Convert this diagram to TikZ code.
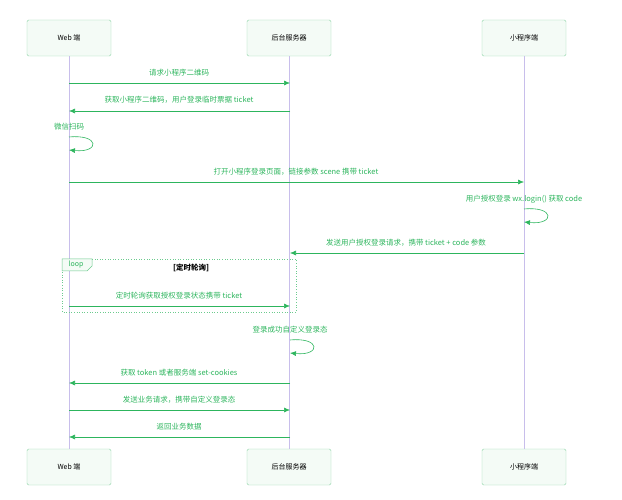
\documentclass[tikz,border=0pt]{standalone}
\usepackage{fontspec}
\setmainfont{Noto Sans CJK SC}
\usetikzlibrary{arrows.meta}
\definecolor{tg}{HTML}{2DB55D}
\definecolor{bx}{HTML}{8FD4A8}
\definecolor{bf}{HTML}{F4FBF6}
\definecolor{ll}{HTML}{C8BEEB}
\begin{document}
\begin{tikzpicture}[x=1pt,y=-1pt,
  actor/.style={draw=bx,fill=bf,minimum width=84pt,minimum height=36pt,rounded corners=1.5pt,font=\fontsize{7}{8}\selectfont,text=black},
  msg/.style={draw=tg,line width=0.6pt,-{Latex[length=6pt,width=5pt]},shorten >=0pt},
  lab/.style={text=tg,font=\fontsize{7.5}{9}\selectfont,inner sep=1pt},
  life/.style={draw=ll,line width=0.6pt}]
\useasboundingbox (0,0) rectangle (622,500);
\node[actor] (wt) at (69,38) {Web 端};
\node[actor] (st) at (289,38) {后台服务器};
\node[actor] (mt) at (524,38) {小程序端};
\node[actor] (wb) at (69,467) {Web 端};
\node[actor] (sb) at (289,467) {后台服务器};
\node[actor] (mb) at (524,467) {小程序端};
\draw[life] (wt.south) -- (wb.north);
\draw[life] (st.south) -- (sb.north);
\draw[life] (mt.south) -- (mb.north);
% loop box
\draw[draw=tg!70,dotted,line width=0.6pt] (62,259) rectangle (296,312);
\draw[draw=tg!70,fill=bf,line width=0.5pt] (62,259) -- (92,259) -- (92,266) -- (87,271) -- (62,271) -- cycle;
\node[text=tg,font=\fontsize{7}{8}\selectfont,inner sep=0pt] (lp) at (76,265) {loop};
\node[font=\fontsize{7.5}{9}\selectfont\bfseries,inner sep=1pt] (lc) at (191,268) {[定时轮询]};
% coordinates
\foreach \n/\x in {w/69,s/290,m/524}{
  \foreach \y in {83,111,182,253,306,383,410,437}{\coordinate (\n\y) at (\x,\y);}}
\draw[msg] (w83) -- (s83); \node[lab] (l1) at (179,73) {请求小程序二维码};
\draw[msg] (s111) -- (w111); \node[lab] (l2) at (179,100) {获取小程序二维码，用户登录临时票据 ticket};
\coordinate (a1) at (69,137); \coordinate (a2) at (69,150);
\draw[msg] (a1) .. controls (100,134) and (100,153) .. (a2);
\node[lab] (l3) at (69,127) {微信扫码};
\draw[msg] (w182) -- (m182); \node[lab] (l4) at (296,172) {打开小程序登录页面，链接参数 scene 携带 ticket};
\coordinate (b1) at (524,209); \coordinate (b2) at (524,222);
\draw[msg] (b1) .. controls (555,206) and (555,225) .. (b2);
\node[lab] (l5) at (524,199) {用户授权登录 wx.login() 获取 code};
\draw[msg] (m253) -- (s253); \node[lab] (l6) at (406,243) {发送用户授权登录请求，携带 ticket + code 参数};
\draw[msg] (w306) -- (s306); \node[lab] (l7) at (179,296) {定时轮询获取授权登录状态携带 ticket};
\coordinate (c1) at (290,340); \coordinate (c2) at (290,353);
\draw[msg] (c1) .. controls (321,337) and (321,356) .. (c2);
\node[lab] (l8) at (290,330) {登录成功自定义登录态};
\draw[msg] (s383) -- (w383); \node[lab] (l9) at (179,373) {获取 token 或者服务端 set-cookies};
\draw[msg] (w410) -- (s410); \node[lab] (l10) at (179,400) {发送业务请求，携带自定义登录态};
\draw[msg] (s437) -- (w437); \node[lab] (l11) at (179,427) {返回业务数据};
\end{tikzpicture}
\end{document}
